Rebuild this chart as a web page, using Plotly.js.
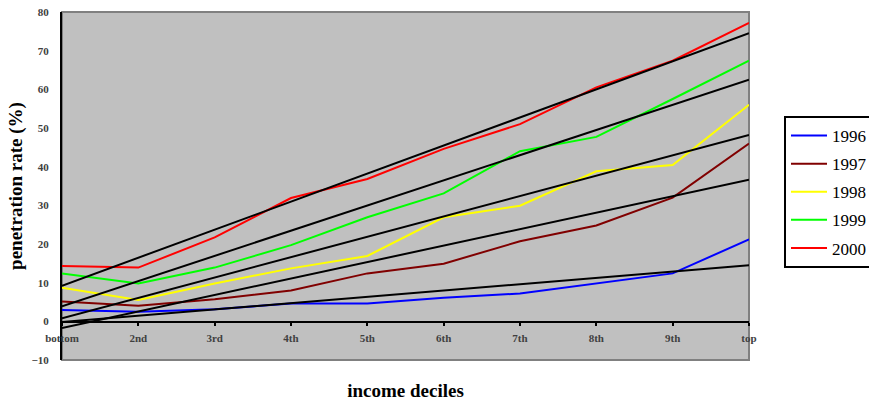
<!DOCTYPE html>
<html>
<head>
<meta charset="utf-8">
<script src="https://cdn.plot.ly/plotly-3.0.1.min.js"></script>
<style>html,body{margin:0;padding:0;background:#fff;}#chart{width:869px;height:401px;}</style>
</head>
<body>
<div id="chart"></div>
<script>
// categories (income deciles)
const deciles = ['bottom','2nd','3rd','4th','5th','6th','7th','8th','9th','top'];
// series names
const years = ['1996','1997','1998','1999','2000'];
// penetration rate (%) per decile
const v1996 = [2.9, 2.5, 3.1, 4.6, 4.6, 6.1, 7.2, 9.8, 12.4, 21.2];
const v1997 = [5.1, 4.0, 5.7, 8.0, 12.4, 14.9, 20.7, 24.8, 32.0, 46.0];
const v1998 = [8.7, 5.5, 9.8, 13.7, 16.9, 26.9, 29.9, 38.8, 40.4, 56.0];
const v1999 = [12.4, 9.8, 13.9, 19.7, 26.9, 33.1, 44.0, 47.7, 57.5, 67.4];
const v2000 = [14.3, 13.9, 21.7, 31.9, 36.8, 44.6, 51.0, 60.5, 67.4, 77.2];
// linear trend lines: value at 'bottom' and at 'top'
const trendStart = [-0.2, -1.7, 0.8, 3.9, 9.2];
const trendEnd   = [14.5, 36.6, 48.2, 62.5, 74.5];
// y-axis tick values
const yTicks = [-10, 0, 10, 20, 30, 40, 50, 60, 70, 80];

const series = [v1996, v1997, v1998, v1999, v2000];
const colors = ['#0000ff', '#800000', '#ffff00', '#00ff00', '#ff0000'];

const traces = [];
series.forEach((vals, i) => {
  traces.push({
    type: 'scatter', mode: 'lines', name: years[i],
    x: deciles, y: vals,
    line: {color: colors[i], width: 2},
    legendgroup: 'g' + i, hoverinfo: 'skip'
  });
});
series.forEach((vals, i) => {
  traces.push({
    type: 'scatter', mode: 'lines', showlegend: false,
    x: [deciles[0], deciles[deciles.length - 1]],
    y: [trendStart[i], trendEnd[i]],
    line: {color: '#000000', width: 2},
    hoverinfo: 'skip'
  });
});

const tickFont = {family: 'Liberation Serif, serif', size: 11, color: '#404040', weight: 'bold'};

const layout = {
  width: 869, height: 401,
  margin: {l: 62, r: 120, t: 12, b: 41, pad: 0},
  paper_bgcolor: '#ffffff',
  plot_bgcolor: '#c0c0c0',
  showlegend: true,
  legend: {
    xref: 'container', yref: 'container',
    x: 784 / 869, y: 1 - 116 / 401, xanchor: 'left', yanchor: 'top',
    bgcolor: '#ffffff', bordercolor: '#000000', borderwidth: 2,
    font: {family: 'Liberation Serif', size: 17, color: '#000000'},
    traceorder: 'grouped', tracegroupgap: 3, itemwidth: 36
  },
  xaxis: {
    type: 'category', range: [0, deciles.length - 1],
    anchor: 'free', position: 38 / 348,
    showgrid: false, zeroline: false,
    showline: true, linecolor: '#000000', linewidth: 2,
    ticks: 'outside', ticklen: 3, tickcolor: '#000000', tickwidth: 2,
    ticklabelstandoff: 3,
    tickfont: tickFont,
    title: {text: 'income deciles', standoff: 44,
      font: {family: 'Liberation Serif, serif', size: 19, color: '#000000', weight: 'bold'}}
  },
  yaxis: {
    range: [-10, 80], tickvals: yTicks,
    showgrid: false, zeroline: false,
    showline: true, linecolor: '#000000', linewidth: 2,
    ticks: 'outside', ticklen: 9, tickcolor: 'rgba(0,0,0,0)',
    tickfont: tickFont,
    title: {text: 'penetration rate (%)', standoff: 4,
      font: {family: 'Liberation Serif, serif', size: 19, color: '#000000', weight: 'bold'}}
  },
  shapes: [{
    type: 'rect', xref: 'x domain', yref: 'y domain', x0: 0, x1: 1, y0: 0, y1: 1,
    line: {color: '#808080', width: 2}, layer: 'below'
  }]
};

Plotly.newPlot('chart', traces, layout, {staticPlot: true, displayModeBar: false});
</script>
</body>
</html>
